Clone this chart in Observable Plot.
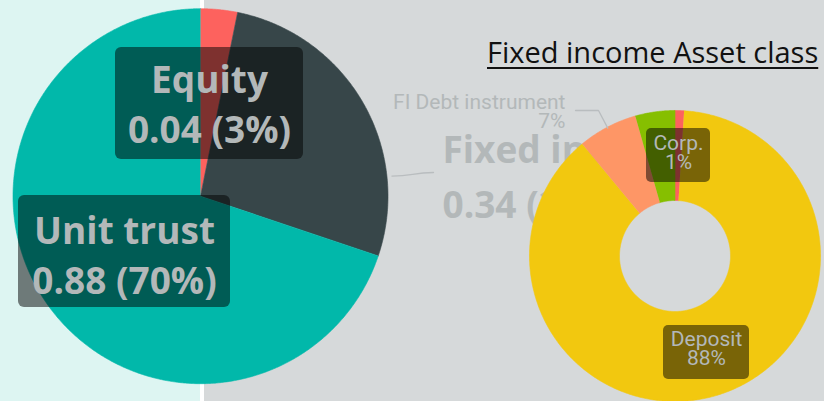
<!DOCTYPE html>
<html><head><meta charset="utf-8">
<script src="https://cdn.jsdelivr.net/npm/d3@7"></script>
<script src="https://cdn.jsdelivr.net/npm/@observablehq/plot@0.6"></script>
<style>
html,body{margin:0;padding:0;background:#d6d9da;}
body{width:824px;height:401px;overflow:hidden;position:relative;}
#chart{position:absolute;left:0;top:0;}
#title{position:absolute;left:487px;top:37px;font-family:"Open Sans";font-size:29px;color:#111;text-decoration:underline;text-decoration-thickness:2px;text-underline-offset:4px;white-space:nowrap;line-height:1;}
</style></head><body>
<div id="chart"></div>
<div id="title"></div>
<script>
// ---- data ----
const assetClasses = ["Equity", "Fixed income", "Unit trust"];
const assetValues = [0.04, 0.34, 0.88];
const assetColors = ["#FD625E", "#374649", "#01B8AA"];
const fiTypes = ["Corp.", "Deposit", "FI Debt instrument", "Other"];
const fiShares = [1.0, 88.0, 6.6, 4.4];
const fiColors = ["#FD625E", "#F2C80F", "#FE9666", "#86BF00"];
const titleText = "Fixed income Asset class";

// ---- layout (not data) ----
const W = 824, H = 401;
const PIE = {cx: 200, cy: 195.7, r: 187.5};
const DONUT = {cx: 674.5, cy: 255.5, r: 145.5, r0: 55.5};
const labelInk = "#b3b8b9";
const leftLabelPos = {
  "Equity": {x: 209, y: 142, anchor: "middle", box: [115, 303, 47, 159]},
  "Unit trust": {x: 124, y: 293, anchor: "middle", box: [18, 230, 195, 307]},
  "Fixed income": {x: 442, y: 217, anchor: "start", box: null}
};
const fiLabelPos = {
  "Corp.": {x: 678, y: 168, anchor: "middle", box: [646, 710, 128, 182]},
  "Deposit": {x: 706, y: 364, anchor: "middle", box: [663, 749, 325, 379]},
  "FI Debt instrument": {x: 565, y: 127, anchor: "end", box: null}
};

// ---- geometry helpers ----
const pt = (g, rad, a) => [g.cx + rad * Math.sin(a), g.cy - rad * Math.cos(a)];
function slicePoints(arcs, keys, g, inner) {
  const out = [];
  arcs.forEach((a, i) => {
    const n = Math.max(2, Math.ceil((a.endAngle - a.startAngle) / (Math.PI / 360)));
    const outer = d3.range(n + 1).map(k => a.startAngle + (a.endAngle - a.startAngle) * k / n);
    if (!inner) out.push({key: keys[i], p: [g.cx, g.cy]});
    for (const t of outer) out.push({key: keys[i], p: pt(g, g.r, t)});
    if (inner) for (const t of outer.slice().reverse()) out.push({key: keys[i], p: pt(g, inner, t)});
  });
  return out;
}

const pie = d3.pie().sort(null).startAngle(0).endAngle(2 * Math.PI);
const assetArcs = pie(assetValues);
const fiArcs = pie(fiShares);
const total = d3.sum(assetValues);
const fiTotal = d3.sum(fiShares);

const assetPts = slicePoints(assetArcs, assetClasses, PIE, 0);
const fiPts = slicePoints(fiArcs, fiTypes, DONUT, DONUT.r0);

const leftLabels = assetClasses.map((c, i) => ({
  key: c,
  text: `${c}\n${d3.format(".2f")(assetValues[i])} (${Math.round(100 * assetValues[i] / total)}%)`,
  ...leftLabelPos[c]
}));
const fiLabels = fiTypes.filter(t => fiLabelPos[t]).map(t => ({
  key: t,
  text: `${t}\n${Math.round(100 * fiShares[fiTypes.indexOf(t)] / fiTotal)}%`,
  ...fiLabelPos[t]
}));
const boxes = [...leftLabels, ...fiLabels].filter(d => d.box)
  .map(d => ({x1: d.box[0], x2: d.box[1], y1: d.box[2], y2: d.box[3]}));
const leftBoxes = boxes.slice(0, 2), fiBoxes = boxes.slice(2);

// leader lines
const leaderA = pt(PIE, PIE.r + 5, 84 * Math.PI / 180);
const leftLeader = [{p: leaderA}, {p: [433, 172]}];
const debtArc = fiArcs[fiTypes.indexOf("FI Debt instrument")];
const debtMid = (debtArc.startAngle + debtArc.endAngle) / 2;
const fiLeader = [{p: pt(DONUT, DONUT.r - 1, debtMid)}, {p: [598, 110]}, {p: [575, 110]}];

const font = "'Open Sans', 'Noto Sans', sans-serif";
const dinFont = "Roboto, 'Noto Sans', sans-serif";

const textMark = (data, size, weight, lh, fam) => ["start", "middle", "end"].map(anc =>
  Plot.text(data.filter(d => d.anchor === anc), {
    x: "x", y: "y", text: "text", textAnchor: anc, lineAnchor: "bottom",
    lineHeight: lh, fontSize: size, fontWeight: weight, fontFamily: fam, fill: labelInk
  }));

const chart = Plot.plot({
  width: W, height: H, margin: 0,
  x: {domain: [0, W], range: [0, W], axis: null},
  y: {domain: [0, H], range: [0, H], axis: null},
  color: {domain: [...assetClasses, ...fiTypes], range: [...assetColors, ...fiColors]},
  style: {background: "linear-gradient(to right, #ddf5f2 0 200px, #ffffff 200px 204px, #d6d9da 204px)", overflow: "visible"},
  marks: [
    Plot.line(assetPts, {x: d => d.p[0], y: d => d.p[1], z: "key", fill: "key", stroke: "key", strokeWidth: 0.6, curve: "linear"}),
    Plot.line(leftLeader, {x: d => d.p[0], y: d => d.p[1], stroke: "#b9bdbf", strokeWidth: 1.3, curve: "bump-x"}),
    Plot.rect(leftBoxes, {x1: "x1", x2: "x2", y1: "y1", y2: "y2", fill: "#000", fillOpacity: 0.5, rx: 6}),
    ...textMark(leftLabels.filter(d => d.key !== "Fixed income"), 37, 700, 1.35, font),
    ...textMark(leftLabels.filter(d => d.key === "Fixed income"), 37, 700, 1.48, font),
    Plot.line(fiPts, {x: d => d.p[0], y: d => d.p[1], z: "key", fill: "key", stroke: "key", strokeWidth: 0.6, curve: "linear"}),
    Plot.line(fiLeader, {x: d => d.p[0], y: d => d.p[1], stroke: "#b9bdbf", strokeWidth: 1.3}),
    Plot.rect(fiBoxes, {x1: "x1", x2: "x2", y1: "y1", y2: "y2", fill: "#000", fillOpacity: 0.5, rx: 5}),
    ...textMark(fiLabels, 21, 400, 0.9, dinFont)
  ]
});
document.getElementById("chart").append(chart);
document.getElementById("title").textContent = titleText;
</script>
</body></html>
